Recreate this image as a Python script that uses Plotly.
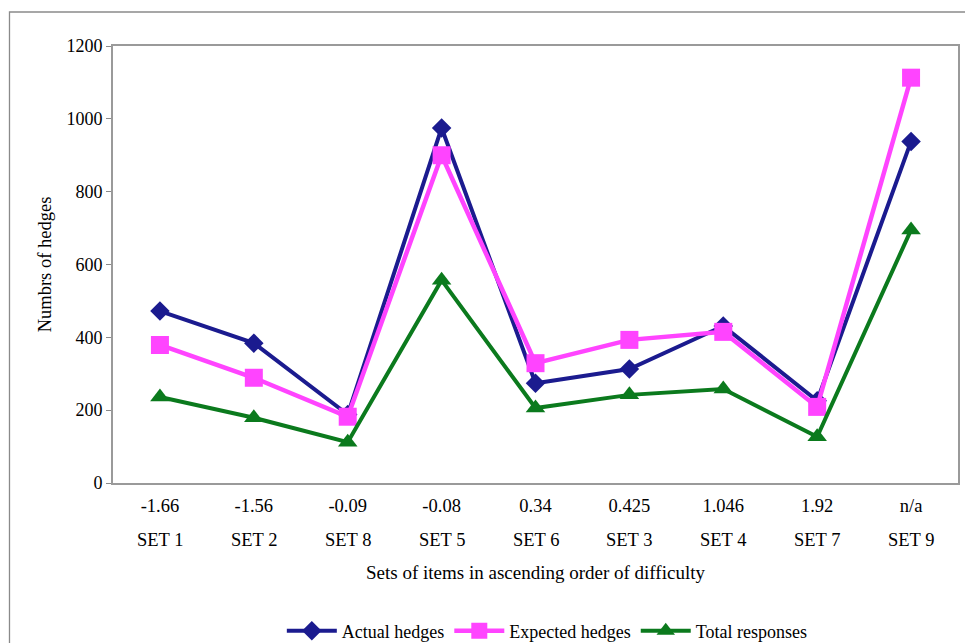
import plotly.graph_objects as go

# Sets ordered by difficulty, with their difficulty estimates
sets = ["SET 1", "SET 2", "SET 8", "SET 5", "SET 6", "SET 3", "SET 4", "SET 7", "SET 9"]
difficulty = ["-1.66", "-1.56", "-0.09", "-0.08", "0.34", "0.425", "1.046", "1.92", "n/a"]

actual_hedges = [472, 384, 188, 975, 274, 313, 431, 226, 938]
expected_hedges = [379, 289, 182, 900, 329, 393, 415, 209, 1113]
total_responses = [236, 179, 112, 557, 206, 242, 258, 127, 695]

FONT = "Liberation Serif, Times New Roman, serif"
NAVY = "#1B1B8F"
MAGENTA = "#FF44FF"
GREEN = "#0B7A1D"

x = list(range(len(sets)))

fig = go.Figure()
fig.add_trace(go.Scatter(
    x=x, y=actual_hedges, name="Actual hedges", mode="lines+markers",
    line=dict(color=NAVY, width=4),
    marker=dict(symbol="diamond", size=15, color=NAVY),
))
fig.add_trace(go.Scatter(
    x=x, y=expected_hedges, name="Expected hedges", mode="lines+markers",
    line=dict(color=MAGENTA, width=4.5),
    marker=dict(symbol="square", size=18, color=MAGENTA),
))
fig.add_trace(go.Scatter(
    x=x, y=total_responses, name="Total responses", mode="lines+markers",
    line=dict(color=GREEN, width=4),
    marker=dict(symbol="triangle-up", size=17, color=GREEN),
))

# Second row of category labels (set names) under the difficulty values
for i, s in enumerate(sets):
    fig.add_annotation(
        x=i, y=-0.1304, xref="x", yref="paper", text=s, showarrow=False,
        yanchor="middle", xanchor="center", font=dict(family=FONT, size=18.5, color="black"),
    )

# Outer chart frame
fig.add_shape(
    type="rect", xref="paper", yref="paper",
    x0=-0.1225, x1=1.02, y0=-0.40, y1=1.0778,
    line=dict(color="#8a8a8a", width=1.3), fillcolor="rgba(0,0,0,0)", layer="below",
)

fig.update_layout(
    width=965, height=643,
    margin=dict(l=113, r=7, t=46, b=160, autoexpand=False),
    paper_bgcolor="white", plot_bgcolor="white",
    font=dict(family=FONT, size=18, color="black"),
    showlegend=True,
    legend=dict(
        orientation="h", x=0.514, xanchor="center",
        y=0.0187, yref="container", yanchor="middle",
        font=dict(family=FONT, size=18, color="black"),
        bgcolor="rgba(0,0,0,0)", itemwidth=50, tracegroupgap=0,
    ),
    xaxis=dict(
        range=[-0.5, len(sets) - 0.5],
        tickmode="array", tickvals=x, ticktext=difficulty,
        ticks="", showgrid=False, zeroline=False,
        showline=True, mirror=True, linecolor="#9a9a9a", linewidth=2,
        ticklabelstandoff=5, automargin=False,
        tickfont=dict(family=FONT, size=18.5, color="black"),
        title=dict(text="Sets of items in ascending order of difficulty",
                   font=dict(family=FONT, size=19, color="black"), standoff=50),
    ),
    yaxis=dict(
        range=[0, 1200], dtick=200, tick0=0,
        ticks="outside", ticklen=5, tickcolor="#8a8a8a", tickwidth=1,
        showgrid=False, zeroline=False, automargin=False,
        showline=True, mirror=True, linecolor="#9a9a9a", linewidth=2,
        tickfont=dict(family=FONT, size=18, color="black"),
        title=dict(text="Numbrs of hedges",
                   font=dict(family=FONT, size=18.5, color="black"), standoff=10),
    ),
)

fig.write_html("out.html")
